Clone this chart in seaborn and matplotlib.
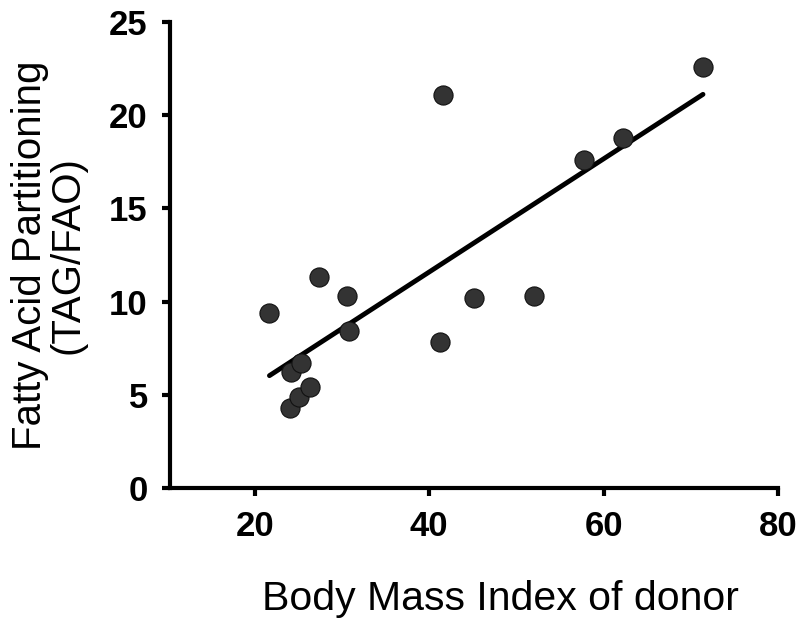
import matplotlib
matplotlib.use('Agg')
import matplotlib.pyplot as plt
import pandas as pd
import seaborn as sns

# Values
bmi = [21.7, 24.1, 24.2, 25.1, 25.3, 26.4, 27.4, 30.6, 30.8,
       41.2, 41.6, 45.2, 52.0, 57.8, 62.2, 71.4]
partitioning = [9.4, 4.3, 6.2, 4.9, 6.7, 5.4, 11.3, 10.3, 8.4,
                7.85, 21.1, 10.2, 10.3, 17.6, 18.8, 22.6]
x_ticks = [20, 40, 60, 80]
y_ticks = [0, 5, 10, 15, 20, 25]

df = pd.DataFrame({'bmi': bmi, 'partitioning': partitioning})

sns.set_style('ticks')
plt.rcParams['font.family'] = ['Liberation Sans', 'DejaVu Sans']

fig = plt.figure(figsize=(8, 6.3), dpi=100)
ax = fig.add_axes([0.2125, 0.2254, 0.76, 0.7396])

sns.regplot(x='bmi', y='partitioning', data=df, ci=None, ax=ax,
            scatter_kws={'s': 190, 'color': '#333333', 'edgecolor': '#111111',
                         'linewidths': 0.8, 'alpha': 1, 'zorder': 3},
            line_kws={'color': 'black', 'linewidth': 3.5, 'zorder': 2})

ax.set_xlim(10.3, 80)
ax.set_ylim(0, 25)
ax.set_xticks(x_ticks)
ax.set_yticks(y_ticks)
ax.tick_params(axis='both', direction='out', length=6, width=3, labelsize=25,
               pad=10, colors='black')
for lbl in ax.get_xticklabels() + ax.get_yticklabels():
    lbl.set_fontweight('bold')

sns.despine(ax=ax)
for side in ['left', 'bottom']:
    ax.spines[side].set_linewidth(3)
    ax.spines[side].set_color('black')

ax.set_xlabel('Body Mass Index of donor', fontsize=29.5, color='black')
ax.xaxis.set_label_coords(0.543, -0.198)
ax.set_ylabel('Fatty Acid Partitioning\n(TAG/FAO)', fontsize=29, labelpad=16,
              linespacing=1.0, color='black')

fig.savefig('out.png', dpi=100)
